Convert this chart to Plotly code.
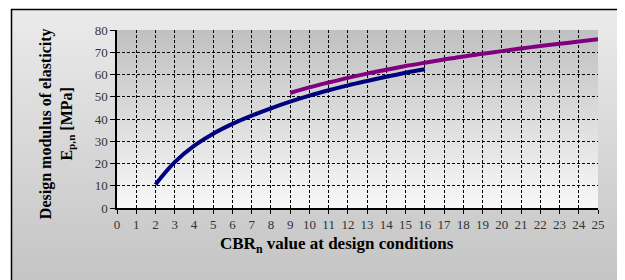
import base64
import plotly.graph_objects as go

# ---- data ----
cbr_blue = [2, 3, 4, 5, 6, 7, 8, 9, 10, 11, 12, 13, 14, 15, 16]
e_blue = [10.6, 20.6, 27.9, 33.4, 37.8, 41.5, 44.8, 47.8, 50.5, 52.9, 55.1, 57.1, 59.0, 60.8, 62.4]

cbr_purple = [9, 10, 11, 12, 13, 14, 15, 16, 17, 18, 19, 20, 21, 22, 23, 24, 25]
e_purple = [51.7, 54.2, 56.4, 58.5, 60.4, 62.1, 63.8, 65.3, 66.7, 68.1, 69.3, 70.5, 71.7, 72.8, 73.8, 74.8, 75.8]

x_ticks = list(range(0, 26))
y_ticks = list(range(0, 81, 10))

FONT = "Liberation Serif, Times New Roman, serif"

# the page body adds an 8px offset; work in page pixels and subtract it
OFF = 8
VW, VH = 625, 280
W, H = VW - 2 * OFF, VH - OFF
PL, PR, PT, PB = 117, 598, 30, 207.7  # plot area edges in page pixels
ML, MT = PL - OFF, PT - OFF
MR = W - (PR - OFF)
MB = H - (PB - OFF)
PW, PH = PR - PL, PB - PT


def px_x(p):
    return (p - PL) / PW


def px_y(p):
    return (PB - p) / PH


def grad_uri(top, bottom):
    svg = (
        '<svg xmlns="http://www.w3.org/2000/svg" width="100" height="100" '
        'viewBox="0 0 100 100" preserveAspectRatio="none">'
        '<defs><linearGradient id="g" x1="0" y1="0" x2="0" y2="1">'
        f'<stop offset="0" stop-color="{top}"/><stop offset="1" stop-color="{bottom}"/>'
        '</linearGradient></defs><rect width="100" height="100" fill="url(#g)"/></svg>'
    )
    return "data:image/svg+xml;base64," + base64.b64encode(svg.encode()).decode()


fig = go.Figure()
fig.add_trace(go.Scatter(x=cbr_blue, y=e_blue, mode="lines",
                         line=dict(color="#000080", width=4, shape="spline"),
                         showlegend=False, hoverinfo="skip"))
fig.add_trace(go.Scatter(x=cbr_purple, y=e_purple, mode="lines",
                         line=dict(color="#800080", width=4, shape="spline"),
                         showlegend=False, hoverinfo="skip"))

# chart area gradient and plot area gradient
chart_x0, chart_y0 = px_x(11.5), px_y(9.5)
chart_x1, chart_y1 = px_x(650), px_y(310)
fig.add_layout_image(dict(source=grad_uri("#ebebeb", "#c0c0c0"), xref="paper", yref="paper",
                          x=chart_x0, y=chart_y0, sizex=chart_x1 - chart_x0, sizey=chart_y0 - chart_y1,
                          xanchor="left", yanchor="top", sizing="stretch", layer="below"))
fig.add_layout_image(dict(source=grad_uri("#c0c0c0", "#f8f8f8"), xref="paper", yref="paper",
                          x=0, y=1, sizex=1, sizey=1,
                          xanchor="left", yanchor="top", sizing="stretch", layer="below"))

fig.add_shape(type="rect", xref="paper", yref="paper",
              x0=chart_x0, y0=chart_y1, x1=chart_x1, y1=chart_y0,
              line=dict(color="#000", width=1.5), fillcolor="rgba(0,0,0,0)", layer="below")

fig.add_annotation(text="<b>Design modulus of elasticity<br>E<sub>p,n</sub> [MPa]</b>",
                   xref="paper", yref="paper", x=px_x(57), y=px_y(124),
                   xanchor="center", yanchor="middle", textangle=-90, showarrow=False,
                   font=dict(family=FONT, size=16, color="#000"))
fig.add_annotation(text="<b>CBR<sub>n</sub> value at design conditions</b>",
                   xref="paper", yref="paper", x=px_x(337), y=px_y(245),
                   xanchor="center", yanchor="middle", showarrow=False,
                   font=dict(family=FONT, size=17, color="#000"))

fig.update_layout(
    width=W, height=H,
    margin=dict(l=ML, r=MR, t=MT, b=MB, pad=0),
    paper_bgcolor="#ffffff",
    plot_bgcolor="rgba(0,0,0,0)",
    font=dict(family=FONT, size=13, color="#333"),
    xaxis=dict(range=[0, 25], tickvals=x_ticks, ticktext=[str(v) for v in x_ticks],
               showgrid=True, gridcolor="#000", gridwidth=1, griddash="3px,2px",
               showline=True, linecolor="#000", linewidth=1.5,
               ticks="outside", ticklen=4, tickcolor="#000", tickwidth=1,
               zeroline=False, fixedrange=True),
    yaxis=dict(range=[0, 80], tickvals=y_ticks, ticktext=[str(v) for v in y_ticks],
               showgrid=True, gridcolor="#000", gridwidth=1, griddash="3px,2px",
               showline=True, linecolor="#000", linewidth=1.5,
               ticks="outside", ticklen=5, tickcolor="#000", tickwidth=1,
               zeroline=False, fixedrange=True),
)

fig.write_html("out.html")
